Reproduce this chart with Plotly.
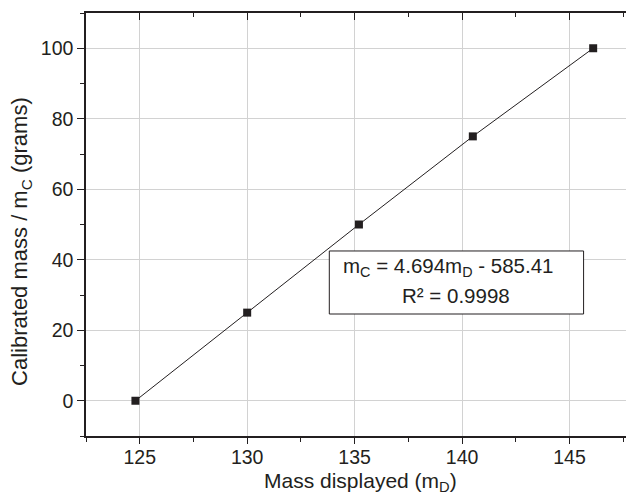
import plotly.graph_objects as go

# Data
mass_displayed = [124.8, 130.0, 135.2, 140.5, 146.1]
calibrated_mass = [0, 25, 50, 75, 100]
x_ticks = [125, 130, 135, 140, 145]
y_ticks = [0, 20, 40, 60, 80, 100]
eq_line1 = "m<sub>C</sub> = 4.694m<sub>D</sub> - 585.41"
eq_line2 = "R² = 0.9998"
x_title = "Mass displayed (m<sub>D</sub>)"
y_title = "Calibrated mass / m<sub>C</sub> (grams)"

INK = "#231f20"
FONT = "Liberation Sans, Arial, sans-serif"
FS = 19.5
XR = [122.5, 148.0]
YR = [-10, 110]

fig = go.Figure()
fig.add_trace(go.Scatter(
    x=mass_displayed, y=calibrated_mass, mode="lines+markers",
    line=dict(color=INK, width=1),
    marker=dict(symbol="square", size=8, color=INK),
    showlegend=False, hoverinfo="skip",
))

fig.update_layout(
    width=626, height=488,
    margin=dict(l=78, r=0, t=5, b=60, autoexpand=False),
    paper_bgcolor="white", plot_bgcolor="white",
    font=dict(family=FONT, size=FS, color=INK),
    xaxis=dict(
        range=XR, tickvals=x_ticks, showgrid=True, gridcolor="#d2d2d2", gridwidth=1,
        zeroline=False, showline=True, linecolor=INK, linewidth=1.5, automargin=False,
        ticks="outside", ticklen=6, tickwidth=1.3, tickcolor=INK, ticklabelstandoff=-3,
        minor=dict(dtick=2.5, tick0=122.5, ticks="outside", ticklen=4, tickcolor=INK, tickwidth=1.2, showgrid=False),
        tickfont=dict(family=FONT, size=FS, color=INK),
    ),
    yaxis=dict(
        range=YR, tickvals=y_ticks, showgrid=True, gridcolor="#d2d2d2", gridwidth=1,
        zeroline=False, showline=True, linecolor=INK, linewidth=1.5, automargin=False,
        ticks="outside", ticklen=7, tickwidth=1.3, tickcolor=INK,
        minor=dict(dtick=10, tick0=-10, ticks="outside", ticklen=4, tickcolor=INK, tickwidth=1.2, showgrid=False),
        tickfont=dict(family=FONT, size=FS, color=INK),
    ),
    xaxis2=dict(
        overlaying="x", side="top", range=XR, tickvals=x_ticks, showticklabels=False,
        showgrid=False, zeroline=False, showline=True, linecolor=INK, linewidth=1.5, automargin=False,
        ticks="inside", ticklen=7, tickwidth=1.3, tickcolor=INK,
        minor=dict(dtick=2.5, tick0=122.5, ticks="inside", ticklen=4, tickcolor=INK, tickwidth=1.2, showgrid=False),
    ),
    yaxis2=dict(
        overlaying="y", side="right", range=YR, tickvals=y_ticks, showticklabels=False,
        showgrid=False, zeroline=False, showline=False, automargin=False,
        ticks="inside", ticklen=7, tickwidth=1.3, tickcolor=INK,
        minor=dict(dtick=10, tick0=-10, ticks="inside", ticklen=4, tickcolor=INK, tickwidth=1.2, showgrid=False),
    ),
)

# invisible trace to activate the mirror axes
fig.add_trace(go.Scatter(x=[XR[0]], y=[YR[0]], xaxis="x2", yaxis="y2", mode="markers",
                         marker=dict(opacity=0), showlegend=False, hoverinfo="skip"))

# axis titles
fig.add_annotation(xref="paper", yref="paper", x=0.5, y=-0.108, xanchor="center", yanchor="middle",
                   text=x_title, showarrow=False, font=dict(family=FONT, size=21, color=INK))
fig.add_annotation(xref="paper", yref="paper", x=-0.1177, y=0.46, xanchor="center", yanchor="middle",
                   text=y_title, textangle=-90, showarrow=False, font=dict(family=FONT, size=22, color=INK))

# equation box
fig.add_shape(type="rect", xref="paper", yref="paper", x0=0.444, x1=0.908, y0=0.2884, y1=0.4374,
              line=dict(color=INK, width=1), fillcolor="white", layer="above")
fig.add_annotation(xref="paper", yref="paper", x=0.6606, y=0.400, xanchor="center", yanchor="middle",
                   text=eq_line1, showarrow=False, font=dict(family=FONT, size=20.5, color=INK))
fig.add_annotation(xref="paper", yref="paper", x=0.675, y=0.333, xanchor="center", yanchor="middle",
                   text=eq_line2, showarrow=False, font=dict(family=FONT, size=20.5, color=INK))

fig.write_html("out.html")
